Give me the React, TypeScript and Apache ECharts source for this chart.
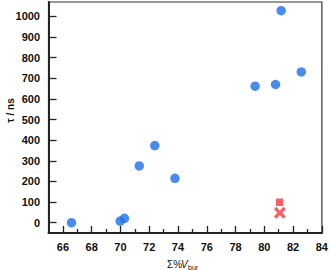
import React, { useEffect, useRef } from "react";
import * as echarts from "echarts";

const blueX = [66.6, 69.98, 70.28, 71.31, 72.39, 73.79, 79.36, 80.78, 81.17, 82.57];
const blueY = [0, 8, 21, 275, 374, 215, 662, 670, 1028, 731];
const squarePoint = [81.06, 99];
const crossPoint = [81.08, 48];

const xMajorTicks = [66, 68, 70, 72, 74, 76, 78, 80, 82, 84];
const xMinorTicks = [67, 69, 71, 73, 75, 77, 79, 81, 83];
const yTicks = [0, 100, 200, 300, 400, 500, 600, 700, 800, 900, 1000];

const FONT = "Liberation Sans, Arial, sans-serif";
const X_PATH = "path://M2,0 L5,3 L8,0 L10,2 L7,5 L10,8 L8,10 L5,7 L2,10 L0,8 L3,5 L0,2 Z";

export default function App() {
  const ref = useRef<HTMLDivElement>(null);
  useEffect(() => {
    if (!ref.current) return;
    const chart = echarts.init(ref.current, undefined, { renderer: "svg" });
    chart.setOption({
      animation: false,
      backgroundColor: "#ffffff",
      grid: {
        left: 48.5,
        top: 2,
        right: 8,
        bottom: 37,
        show: true,
        borderColor: "#333",
        borderWidth: 1.2,
        containLabel: false,
      },
      xAxis: [
        {
          type: "value",
          min: 65,
          max: 84,
          position: "bottom",
          axisLine: { show: true, onZero: false, lineStyle: { color: "#222", width: 2 } },
          axisTick: {
            show: true,
            inside: true,
            length: 7,
            customValues: xMajorTicks,
            lineStyle: { color: "#222", width: 1.3 },
          },
          axisLabel: {
            show: true,
            margin: 8,
            fontFamily: FONT,
            fontWeight: "bold",
            fontSize: 11,
            color: "#111",
            customValues: xMajorTicks,
            formatter: (v: number) => String(v),
          },
          splitLine: { show: false },
        },
        {
          type: "value",
          min: 65,
          max: 84,
          position: "bottom",
          axisLine: { show: false, onZero: false },
          axisTick: {
            show: true,
            inside: true,
            length: 4,
            customValues: xMinorTicks,
            lineStyle: { color: "#222", width: 1.3 },
          },
          axisLabel: { show: false },
          splitLine: { show: false },
        },
      ],
      yAxis: {
        type: "value",
        min: -50,
        max: 1070,
        axisLine: { show: true, onZero: false, lineStyle: { color: "#222", width: 2 } },
        axisTick: {
          show: true,
          inside: true,
          length: 8,
          customValues: yTicks,
          lineStyle: { color: "#222", width: 1.3 },
        },
        axisLabel: {
          show: true,
          margin: 8.5,
          fontFamily: FONT,
          fontWeight: "bold",
          fontSize: 11,
          color: "#111",
          customValues: yTicks,
          formatter: (v: number) => String(v),
        },
        splitLine: { show: false },
      },
      graphic: [
        {
          type: "text",
          x: 10,
          y: 110.5,
          rotation: Math.PI / 2,
          style: {
            text: "τ / ns",
            font: `bold 10px ${FONT}`,
            fill: "#111",
            align: "center",
            verticalAlign: "middle",
          },
        },
        {
          type: "text",
          x: 167,
          y: 264,
          style: { text: "Σ%", font: `10px ${FONT}`, fill: "#111", align: "left", verticalAlign: "middle" },
        },
        {
          type: "text",
          x: 181,
          y: 264,
          style: { text: "V", font: `italic 10px ${FONT}`, fill: "#111", align: "left", verticalAlign: "middle" },
        },
        {
          type: "text",
          x: 188,
          y: 267.5,
          style: { text: "bur", font: `7px ${FONT}`, fill: "#111", align: "left", verticalAlign: "middle" },
        },
      ],
      series: [
        {
          type: "scatter",
          xAxisIndex: 0,
          symbol: "circle",
          symbolSize: 9.5,
          itemStyle: { color: "#1f6fe3" },
          data: blueX.map((x, i) => [x, blueY[i]]),
          z: 3,
        },
        {
          type: "scatter",
          xAxisIndex: 0,
          symbol: "rect",
          symbolSize: 7.5,
          itemStyle: { color: "#f0393e" },
          data: [squarePoint],
          z: 3,
        },
        {
          type: "scatter",
          xAxisIndex: 0,
          symbol: X_PATH,
          symbolSize: 12,
          itemStyle: { color: "#f0393e" },
          data: [crossPoint],
          z: 4,
        },
      ],
    });
    return () => chart.dispose();
  }, []);
  return (
    <div
      ref={ref}
      style={{ position: "fixed", left: 0, top: 0, width: 331, height: 270 }}
    />
  );
}
